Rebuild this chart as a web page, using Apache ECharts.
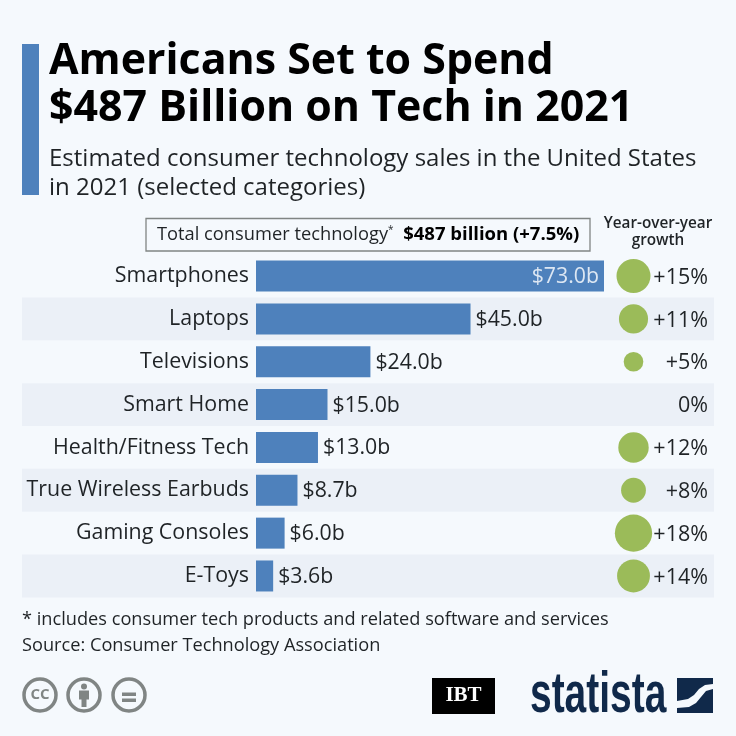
<!DOCTYPE html>
<html>
<head>
<meta charset="utf-8">
<style>html,body{margin:0;padding:0;background:#f5f9fd}#chart{width:736px;height:736px}</style>
<script src="https://cdn.jsdelivr.net/npm/echarts@6/dist/echarts.min.js"></script>
</head>
<body>
<div id="chart"></div>
<script>
let categories = ['Smartphones', 'Laptops', 'Televisions', 'Smart Home', 'Health/Fitness Tech', 'True Wireless Earbuds', 'Gaming Consoles', 'E-Toys'];
let salesValues = [73.0, 45.0, 24.0, 15.0, 13.0, 8.7, 6.0, 3.6];
let growthValues = [15, 11, 5, 0, 12, 8, 18, 14];
let titleLines = 'Americans Set to Spend\n$487 Billion on Tech in 2021';
let subtitleLines = 'Estimated consumer technology sales in the United States\nin 2021 (selected categories)';
let footnotes = '* includes consumer tech products and related software and services\nSource: Consumer Technology Association';

const FONT = '"Open Sans", sans-serif';
const TEXT = '#1f2326';
const BLUE = '#4e81bc';
const GREEN = '#9bbb59';
const GREY = '#808584';
const NAVY = '#10294a';
const BG = '#f5f9fd';
const GRID_TOP = 254.6, GRID_H = 342.8;

function growthLabel(v) {
    return v > 0 ? '+' + v + '%' : v + '%';
}

let chart = echarts.init(document.getElementById('chart'), null, {renderer: 'canvas'});
chart.setOption({
    backgroundColor: BG,
    animation: false,
    textStyle: {fontFamily: FONT},
    grid: [
        {left: 22, width: 692, top: GRID_TOP, height: GRID_H},
        {left: 256, width: 348, top: GRID_TOP, height: GRID_H},
        {left: 553, width: 161, top: GRID_TOP, height: GRID_H}
    ],
    xAxis: [
        {gridIndex: 0, type: 'value', show: false},
        {gridIndex: 1, type: 'value', min: 0, max: 73, show: false},
        {gridIndex: 2, type: 'category', data: ['growth'], show: false}
    ],
    yAxis: [
        {
            gridIndex: 0, type: 'category', data: categories, inverse: true,
            axisLine: {show: false}, axisTick: {show: false}, axisLabel: {show: false},
            splitArea: {show: true, areaStyle: {color: ['rgba(0,0,0,0)', '#ebf0f7']}}
        },
        {
            gridIndex: 1, type: 'category', data: categories, inverse: true,
            axisLine: {show: false}, axisTick: {show: false},
            axisLabel: {color: TEXT, fontSize: 21.4, margin: 7, fontFamily: FONT, padding: [2, 0, 0, 0]}
        },
        {gridIndex: 2, type: 'category', data: categories, inverse: true, show: false}
    ],
    series: [
        {
            type: 'bar', xAxisIndex: 1, yAxisIndex: 1, barWidth: 31,
            itemStyle: {color: BLUE},
            data: salesValues.map((v, i) => ({
                value: v,
                label: i === 0
                    ? {position: 'insideRight', distance: 5, color: '#dde7f3'}
                    : {position: 'right', distance: 5, color: TEXT}
            })),
            label: {
                show: true, fontSize: 21.3, fontFamily: FONT, offset: [0, 1],
                formatter: p => '$' + p.value.toFixed(1) + 'b'
            }
        },
        {
            type: 'scatter', xAxisIndex: 2, yAxisIndex: 2,
            symbolSize: d => Math.sqrt(d[0]) * 8.78,
            itemStyle: {color: GREEN, opacity: 1},
            encode: {x: 1, y: 2},
            data: growthValues.map((v, i) => [v, 'growth', categories[i]])
        },
        {
            type: 'scatter', xAxisIndex: 2, yAxisIndex: 2, symbolSize: 1,
            itemStyle: {color: 'rgba(0,0,0,0)', opacity: 1},
            encode: {x: 1, y: 2},
            label: {
                show: true, position: 'inside', align: 'right', offset: [74.5, 1.5],
                fontSize: 21.5, fontFamily: FONT, color: TEXT,
                formatter: p => growthLabel(p.data[0])
            },
            data: growthValues.map((v, i) => [v, 'growth', categories[i]])
        }
    ],
    graphic: [
        {type: 'rect', shape: {x: 22, y: 44, width: 17, height: 151}, style: {fill: BLUE}},
        {type: 'text', x: 49, y: 38, style: {text: titleLines, font: '700 42.9px ' + FONT, fill: '#000', lineHeight: 47}},
        {type: 'text', x: 49, y: 144, style: {text: subtitleLines, font: '400 24px ' + FONT, fill: TEXT, lineHeight: 29.5}},
        {type: 'rect', shape: {x: 146, y: 218.5, width: 444, height: 32.5}, style: {fill: BG, stroke: GREY, lineWidth: 1.3}},
        {type: 'text', x: 157, y: 235, style: {
            text: '{a|Total consumer technology}{s|*}{b|  $487 billion (+7.5%)}',
            verticalAlign: 'middle',
            rich: {
                a: {font: '400 18.3px ' + FONT, fill: TEXT, verticalAlign: 'middle'},
                s: {font: '400 10px ' + FONT, fill: TEXT, verticalAlign: 'top'},
                b: {font: '700 18.5px ' + FONT, fill: '#000', verticalAlign: 'middle'}
            }
        }},
        {type: 'text', x: 658, y: 215, style: {text: 'Year-over-year\ngrowth', align: 'center', font: '600 15.3px ' + FONT, fill: TEXT, lineHeight: 17}},
        {type: 'text', x: 22, y: 607, style: {text: footnotes, font: '400 18.2px ' + FONT, fill: TEXT, lineHeight: 26}},
        // licence icons
        {type: 'circle', shape: {cx: 40, cy: 695, r: 16}, style: {fill: 'none', stroke: GREY, lineWidth: 3.5}},
        {type: 'text', x: 40, y: 695, style: {text: 'CC', align: 'center', verticalAlign: 'middle', font: '700 15px ' + FONT, fill: GREY}},
        {type: 'circle', shape: {cx: 84, cy: 695, r: 16}, style: {fill: 'none', stroke: GREY, lineWidth: 3.5}},
        {type: 'circle', shape: {cx: 84, cy: 686.5, r: 3}, style: {fill: GREY}},
        {type: 'rect', shape: {x: 79, y: 690.5, width: 10, height: 9}, style: {fill: GREY}},
        {type: 'rect', shape: {x: 81.5, y: 699, width: 5, height: 8}, style: {fill: GREY}},
        {type: 'circle', shape: {cx: 129, cy: 695, r: 16}, style: {fill: 'none', stroke: GREY, lineWidth: 3.5}},
        {type: 'rect', shape: {x: 122, y: 692.5, width: 14, height: 3.5}, style: {fill: GREY}},
        {type: 'rect', shape: {x: 122, y: 698.5, width: 14, height: 3.5}, style: {fill: GREY}},
        // publisher logos
        {type: 'rect', shape: {x: 432, y: 678, width: 63, height: 36}, style: {fill: '#000'}},
        {type: 'text', x: 463.5, y: 696, style: {text: 'IBT', align: 'center', verticalAlign: 'middle', font: '700 21px "Liberation Serif", "DejaVu Serif", serif', fill: '#fff'}},
        {type: 'text', x: 530, y: 696, scaleX: 0.885, scaleY: 1.3, style: {text: 'statista', verticalAlign: 'middle', font: '700 44px "Liberation Sans Narrow", "Liberation Sans", sans-serif', fill: NAVY}},
        {type: 'polygon', shape: {points: [[677, 678], [713, 678], [713, 684], [705, 685], [699, 689], [694, 695], [688, 699], [677, 701]]}, style: {fill: NAVY}},
        {type: 'polygon', shape: {points: [[713, 689], [706, 691], [701, 697], [696, 703], [689, 707], [677, 708], [677, 713], [713, 713]]}, style: {fill: NAVY}}
    ]
});
</script>
</body>
</html>
